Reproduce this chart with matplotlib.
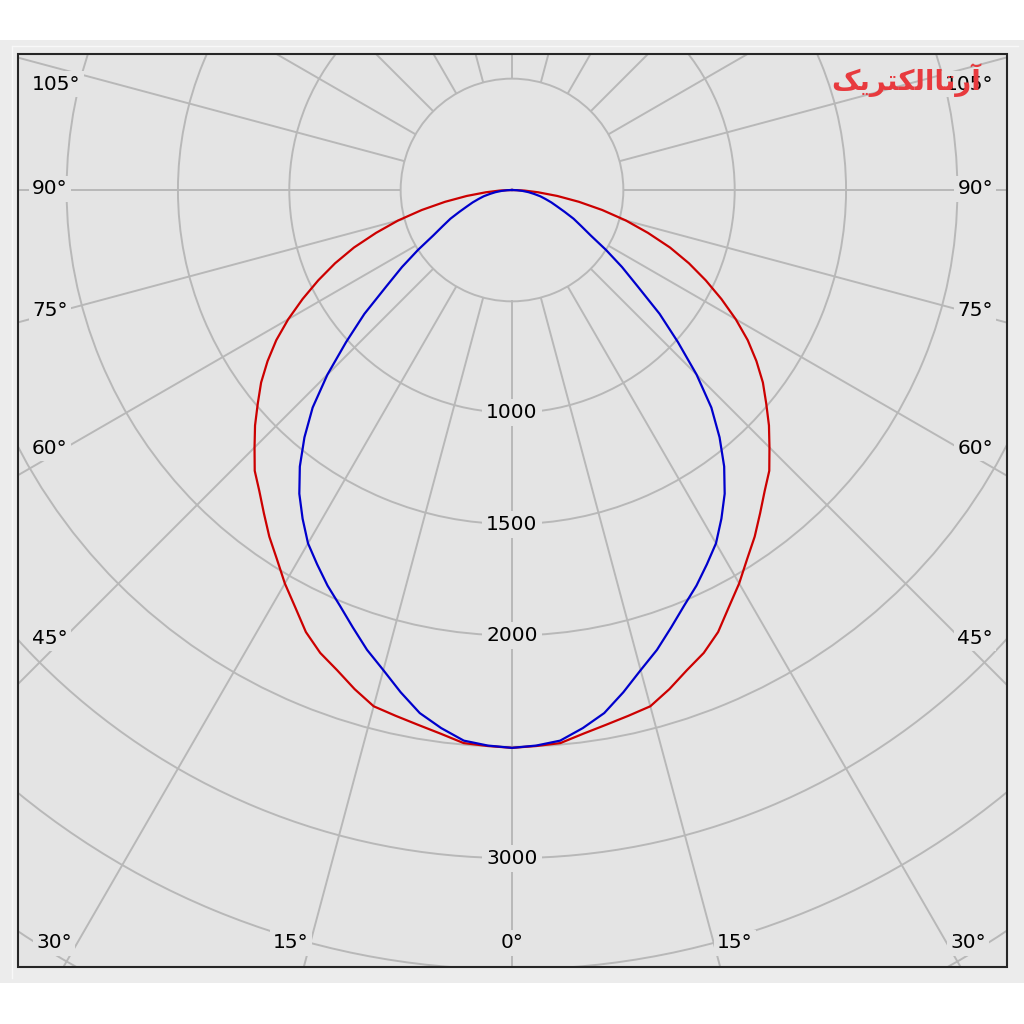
import numpy as np
import matplotlib.pyplot as plt
from matplotlib.patches import Rectangle

# luminous intensity (cd) per gamma angle, symmetric about 0°
gamma_deg = [0, 2.5, 5, 7.5, 10, 12.5, 15, 17.5, 20, 22.5, 25, 27.5, 30, 32.5, 35, 37.5,
             40, 42.5, 45, 47.5, 50, 52.5, 55, 57.5, 60, 62.5, 65, 67.5, 70, 72.5, 75,
             77.5, 80, 82.5, 85, 87.5, 90]
red_cd = [2505, 2499, 2493, 2462, 2438, 2418, 2400, 2350, 2295, 2250, 2190, 2110, 2040,
          1965, 1900, 1830, 1765, 1710, 1635, 1565, 1490, 1420, 1340, 1255, 1160, 1060,
          960, 860, 755, 640, 530, 415, 305, 205, 118, 55, 0]
blue_cd = [2505, 2497, 2482, 2437, 2385, 2310, 2232, 2165, 2090, 2020, 1960, 1895, 1832,
           1750, 1665, 1565, 1450, 1325, 1172, 1010, 865, 712, 603, 500, 408, 350, 305,
           255, 215, 185, 155, 130, 100, 75, 48, 22, 0]

ring_values = [500, 1000, 1500, 2000, 2500, 3000, 3500, 4000, 4500]
ring_labels = [1000, 1500, 2000, 3000]
spoke_deg = np.arange(0, 360, 15)

side_labels = ['105°', '90°', '75°', '60°', '45°']
side_label_y = [84, 189, 310, 448, 638]
bottom_labels = ['30°', '15°', '0°', '15°', '30°']
bottom_label_x = [54, 291, 512, 735, 968]

W = 1024
bg_in = '#e4e4e4'
bg_panel = '#ececec'
grid_c = '#b8b8b8'
fs = 14.5


def fx(x):
    return x / W


def fy(y):
    return 1 - y / W


fig = plt.figure(figsize=(10.24, 10.24), dpi=100, facecolor='white')

# polar axes centred on the lamp (512, 190 px), 500 cd = 111.35 px
rmax = 4500
R = rmax * 111.35 / 500
cx, cy = 512, 190
ax = fig.add_axes([(cx - R) / W, (W - cy - R) / W, 2 * R / W, 2 * R / W],
                  projection='polar')
ax.set_facecolor(bg_in)
ax.set_theta_zero_location('S')
ax.set_ylim(0, rmax)
ax.set_xticks([])
ax.set_yticks(ring_values)
ax.set_yticklabels([])
ax.xaxis.grid(False)
ax.yaxis.grid(True, color=grid_c, lw=1.4)
ax.spines['polar'].set_visible(False)
ax.vlines(np.deg2rad(spoke_deg), 500, rmax, color=grid_c, lw=1.4, zorder=1)

g = np.deg2rad(gamma_deg)
theta = np.concatenate([-g[::-1], g[1:]])
red_full = np.concatenate([red_cd[::-1], red_cd[1:]])
blue_full = np.concatenate([blue_cd[::-1], blue_cd[1:]])
ax.plot(theta, red_full, color='#cc0000', lw=1.6, zorder=3)
ax.plot(theta, blue_full, color='#0000cc', lw=1.6, zorder=4)

for v in ring_labels:
    ax.text(0, v, str(v), ha='center', va='center', fontsize=fs, color='black',
            zorder=5, bbox=dict(boxstyle='square,pad=0.2', fc=bg_in, ec='none'))

# mask everything outside the plot frame
x0, x1, y0, y1 = 18, 1007, 54, 967
masks = [(0, 0, x0, W), (x1, 0, W - x1, W), (x0, 0, x1 - x0, y0), (x0, y1, x1 - x0, W - y1)]
for mx, my, mw, mh in masks:
    fig.add_artist(Rectangle((fx(mx), fy(my + mh)), mw / W, mh / W, transform=fig.transFigure,
                             fc=bg_panel, ec='none', zorder=10))
fig.add_artist(Rectangle((0, fy(40)), 1, 40 / W, transform=fig.transFigure,
                         fc='white', ec='none', zorder=11))
fig.add_artist(Rectangle((0, 0), 1, fy(983), transform=fig.transFigure,
                         fc='white', ec='none', zorder=11))
fig.add_artist(plt.Line2D([fx(11.5), fx(11.5)], [fy(46), fy(978)], transform=fig.transFigure,
                          color='#f8f8f8', lw=1, zorder=12))
fig.add_artist(plt.Line2D([fx(11.5), fx(1018)], [fy(46), fy(46)], transform=fig.transFigure,
                          color='#f8f8f8', lw=1, zorder=12))
fig.add_artist(Rectangle((fx(x0), fy(y1)), (x1 - x0) / W, (y1 - y0) / W,
                         transform=fig.transFigure, fc='none', ec='#262626', lw=1.5, zorder=13))

lbl_box = dict(boxstyle='square,pad=0.15', fc=bg_in, ec='none')
for txt, y in zip(side_labels, side_label_y):
    fig.text(fx(32), fy(y), txt, ha='left', va='center', fontsize=fs, zorder=14, bbox=lbl_box)
    fig.text(fx(993), fy(y), txt, ha='right', va='center', fontsize=fs, zorder=14, bbox=lbl_box)
for txt, x in zip(bottom_labels, bottom_label_x):
    fig.text(fx(x), fy(943), txt, ha='center', va='center', fontsize=fs, zorder=14, bbox=lbl_box)

# brand logo (Arabic presentation forms in visual order), drawn over the 105° label
logo = '\uFB8F\uFBFE\uFEAE\uFE98\uFB91\uFEDF\uFE8D\uFE8E\uFE97\uFEAD\uFE81'
fig.text(fx(906), fy(80), logo, ha='center', va='center', fontsize=20, fontweight='bold',
         color='#e83a3e', family=['DejaVu Sans'], zorder=15)

fig.savefig('out.png', dpi=100, facecolor='white')
